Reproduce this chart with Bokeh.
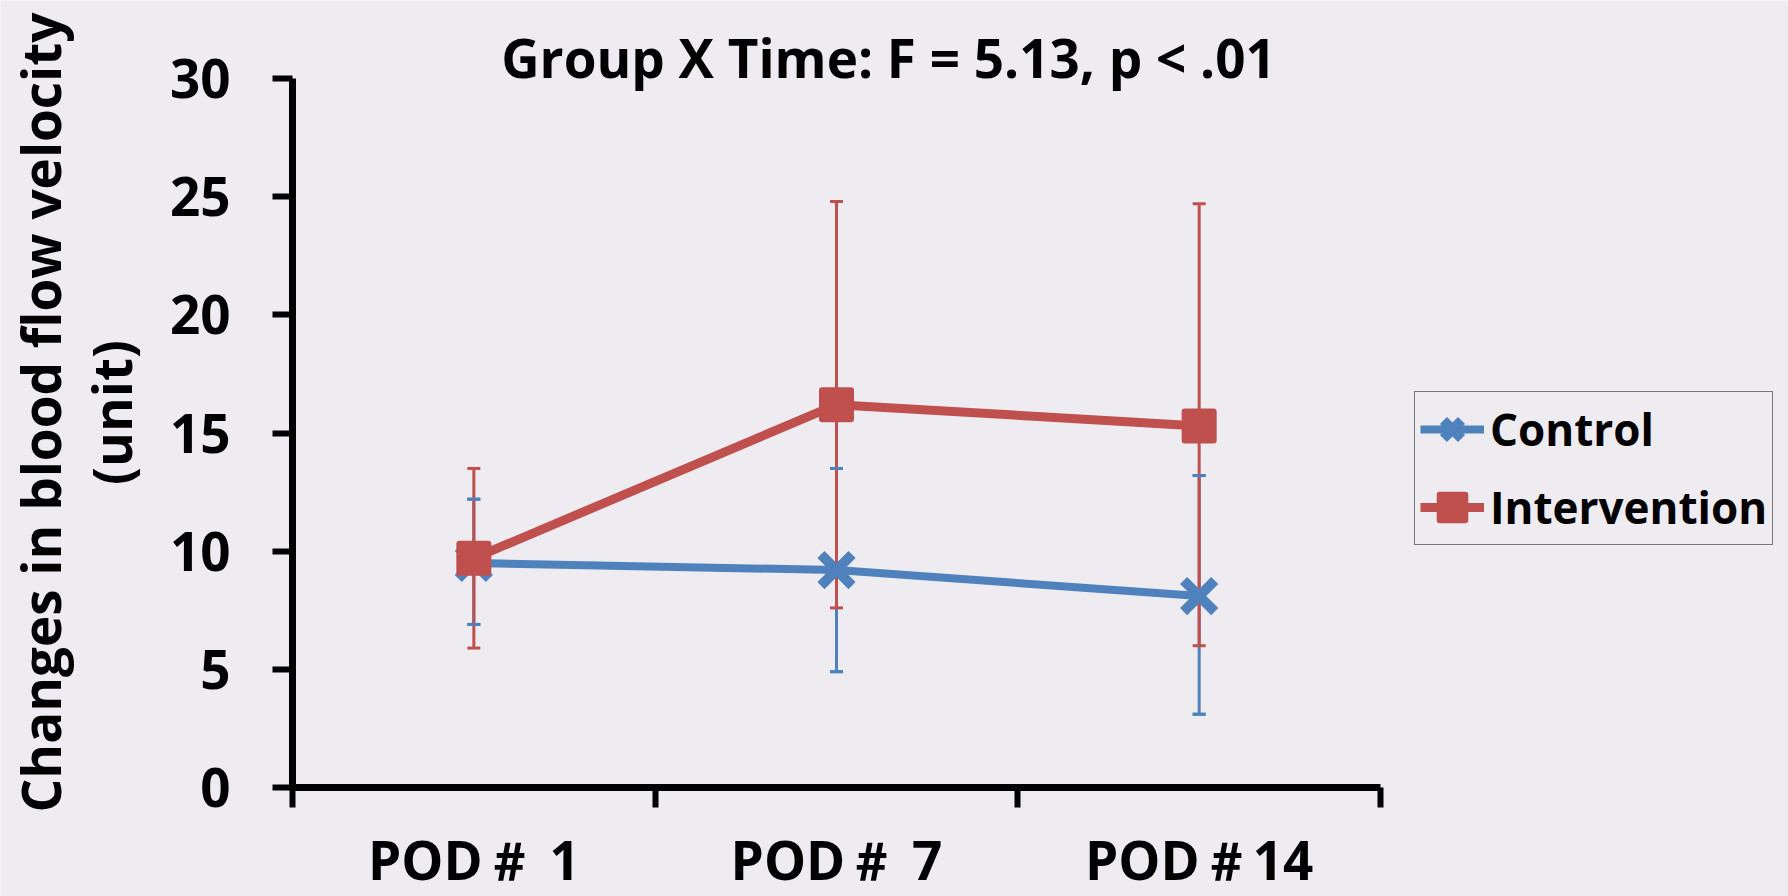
import math
from bokeh.plotting import figure
from bokeh.models import (ColumnDataSource, Whisker, TeeHead, FixedTicker, Legend,
                          LegendItem, Label, Range1d)
from bokeh.embed import file_html
from bokeh.resources import INLINE

# ---- data ----
categories = ["POD＃ 1", "POD＃ 7", "POD＃14"]
control_mean = [9.5, 9.2, 8.1]
control_upper = [12.2, 13.5, 13.2]
control_lower = [6.9, 4.9, 3.1]
intervention_mean = [9.7, 16.2, 15.3]
intervention_upper = [13.5, 24.8, 24.7]
intervention_lower = [5.9, 7.6, 6.0]
y_ticks = [0, 5, 10, 15, 20, 25, 30]
title_text = "Group X Time: F = 5.13, p < .01"
y_label_lines = ["Changes in blood flow velocity", "(unit)"]

FONT = "Open Sans"
BG = "#EEECF1"
BLUE = "#4F81BD"
RED = "#C0504D"

# ---- layout (page pixels) ----
W, H = 1788, 896
AX_L, AX_R, AX_T, AX_B = 292, 1380, 78, 787   # where the axes box sits

n = len(categories)
ymin, ymax = y_ticks[0], y_ticks[-1]
px_x = (AX_R - AX_L) / n
px_y = (AX_B - AX_T) / (ymax - ymin)
x_range = Range1d(-AX_L / px_x, n + (W - AX_R) / px_x)
y_range = Range1d(ymin - (H - AX_B) / px_y, ymax + AX_T / px_y)

xpos = [i + 0.5 for i in range(n)]
src_c = ColumnDataSource(dict(x=xpos, y=control_mean, upper=control_upper, lower=control_lower))
src_i = ColumnDataSource(dict(x=xpos, y=intervention_mean, upper=intervention_upper, lower=intervention_lower))

p = figure(width=W, height=H, output_backend="svg", toolbar_location=None,
           x_range=x_range, y_range=y_range,
           min_border_left=0, min_border_right=0, min_border_top=0, min_border_bottom=0)
p.background_fill_color = BG
p.border_fill_color = BG
p.outline_line_color = None
p.xgrid.visible = False
p.ygrid.visible = False

# y axis
ya = p.yaxis[0]
ya.fixed_location = 0
ya.bounds = (ymin, ymax)
ya.ticker = FixedTicker(ticks=y_ticks)
ya.major_tick_out = 20
ya.major_tick_in = 0
ya.minor_tick_out = 0
ya.minor_tick_in = 0
ya.axis_line_width = 7
ya.major_tick_line_width = 6
ya.major_label_text_font = FONT
ya.major_label_text_font_style = "bold"
ya.major_label_text_font_size = "53px"
ya.major_label_text_color = "black"
ya.major_label_standoff = 42

# x axis
xa = p.xaxis[0]
xa.fixed_location = ymin
xa.bounds = (0, n)
xa.ticker = FixedTicker(ticks=xpos, minor_ticks=list(range(n + 1)))
xa.major_label_overrides = {x: c for x, c in zip(xpos, categories)}
xa.major_tick_out = 0
xa.major_tick_in = 0
xa.minor_tick_out = 20
xa.minor_tick_in = 0
xa.minor_tick_line_width = 6
xa.minor_tick_line_color = "black"
xa.axis_line_width = 7
xa.major_label_text_font = FONT
xa.major_label_text_font_style = "bold"
xa.major_label_text_font_size = "53px"
xa.major_label_text_color = "black"
xa.major_label_standoff = 15

# y axis title (two rotated lines)
for text, cx in zip(y_label_lines, [40, 111]):
    p.add_layout(Label(x=cx, y=H - 412, x_units="screen", y_units="screen", text=text,
                       angle=math.pi / 2, text_align="center", text_baseline="middle",
                       text_font=FONT, text_font_style="bold", text_font_size="53px",
                       text_color="black"))

# error bars
def whisker(src, color, stem=True):
    return Whisker(source=src, base="x", upper="upper", lower="lower", level="underlay",
                   line_color=color, line_width=3, line_alpha=1.0 if stem else 0.0,
                   upper_head=TeeHead(size=13, line_color=color, line_width=3),
                   lower_head=TeeHead(size=13, line_color=color, line_width=3))

p.add_layout(whisker(src_c, BLUE))
p.add_layout(whisker(src_i, RED))
p.add_layout(whisker(src_c, BLUE, stem=False))

lc = p.line("x", "y", source=src_c, line_color=BLUE, line_width=8)
mc = p.scatter("x", "y", source=src_c, marker="x", size=44, line_color=BLUE, line_width=10)
li = p.line("x", "y", source=src_i, line_color=RED, line_width=9)
mi = p.scatter("x", "y", source=src_i, marker="square", size=29, fill_color=RED,
               line_color=RED, line_width=6, line_join="round")

legend = Legend(items=[LegendItem(label="Control", renderers=[lc, mc]),
                       LegendItem(label="Intervention", renderers=[li, mi])],
                location=(1414, H - 545), orientation="vertical",
                label_text_font=FONT, label_text_font_style="bold",
                label_text_font_size="44px", label_text_color="black",
                glyph_width=64, glyph_height=64, label_height=64, label_standoff=6,
                spacing=14, padding=5, margin=0,
                border_line_color="black", border_line_width=1.5,
                background_fill_alpha=0)
p.add_layout(legend, "center")

title = Label(x=888, y=H - 57, x_units="screen", y_units="screen", text=title_text,
              text_align="center", text_baseline="alphabetic", text_font=FONT,
              text_font_style="bold", text_font_size="53px", text_color="black")
p.add_layout(title)

html = file_html(p, INLINE)
html = html.replace("<body>", '<body style="background-color:%s;">' % BG, 1)
open("out.html", "w").write(html)
